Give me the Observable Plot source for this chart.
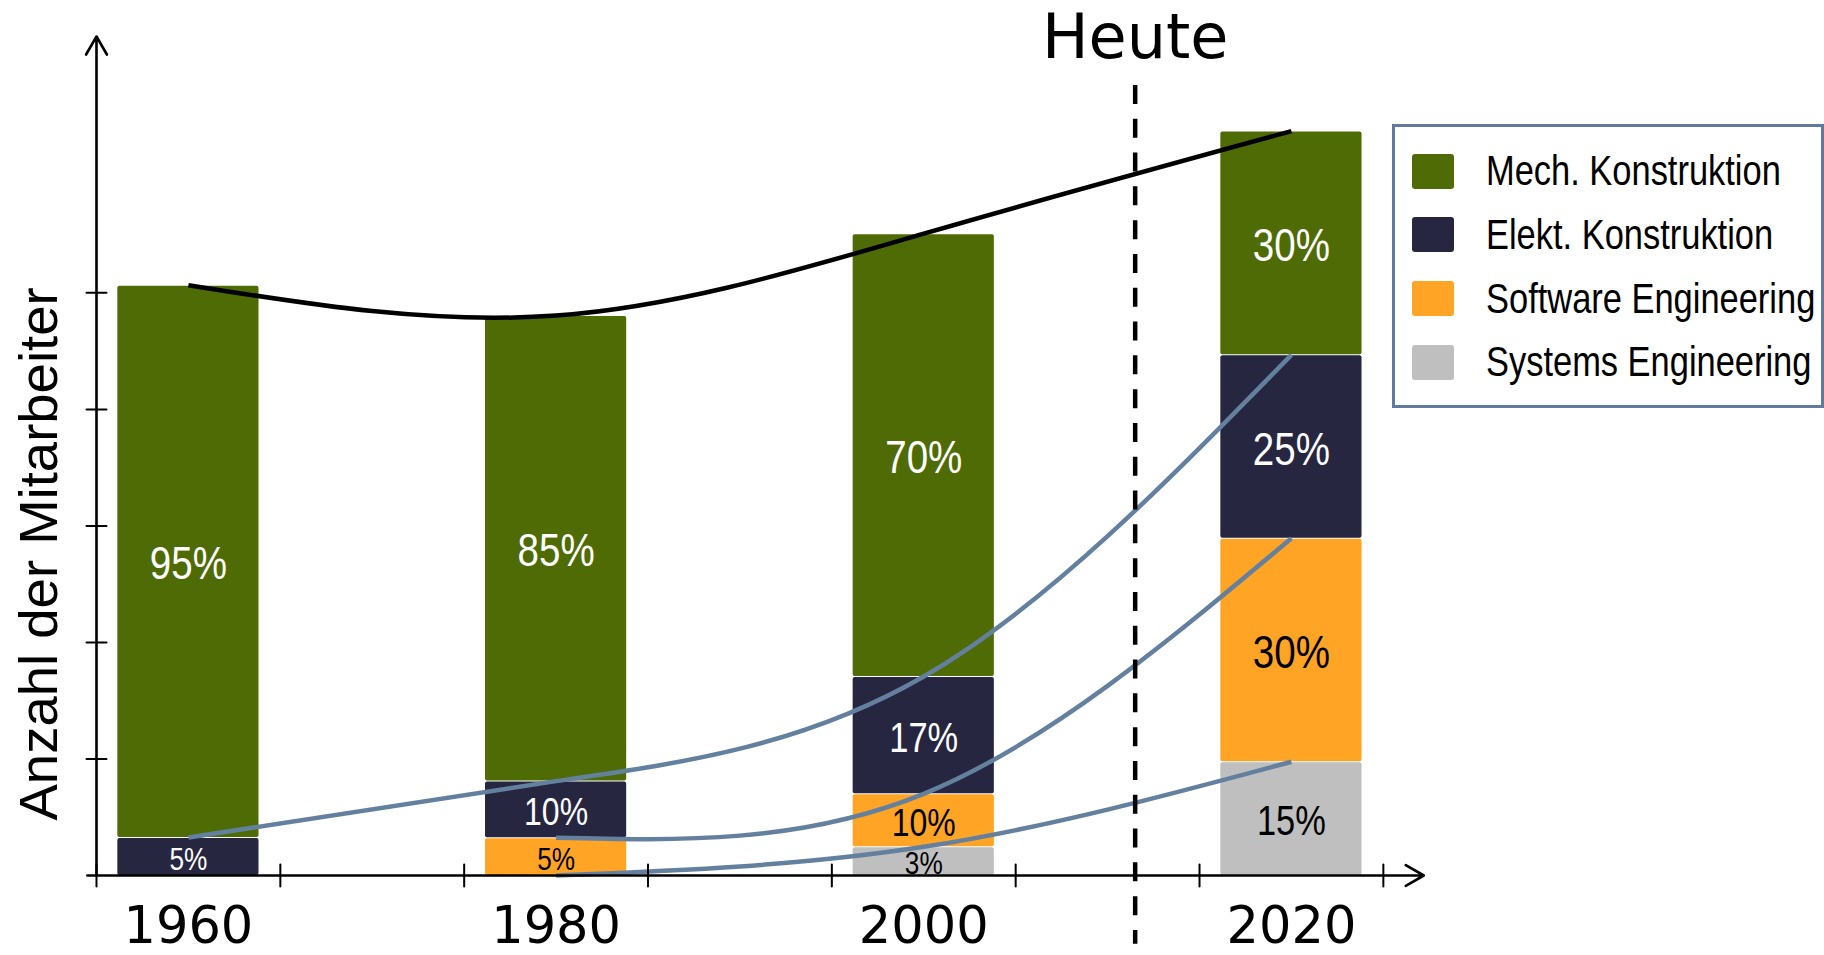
<!DOCTYPE html>
<html>
<head>
<meta charset="utf-8">
<script src="https://cdn.jsdelivr.net/npm/d3@7"></script>
<script src="https://cdn.jsdelivr.net/npm/@observablehq/plot@0.6"></script>
<style>
  body { margin: 0; background: #fff; }
  #wrap { position: relative; width: 1824px; height: 955px; overflow: hidden; background: #fff; }
  #legend {
    position: absolute; left: 1392px; top: 124px; width: 432px; height: 284px;
    box-sizing: border-box; border: 3.5px solid #61799a; background: #fff;
    padding: 12.6px 0 0 16.5px;
    font-family: "Liberation Sans", Arial, sans-serif;
    font-size: 42px; color: #000;
  }
  #legend .row { display: flex; align-items: center; height: 63.6px; white-space: nowrap; }
  #legend .sw { width: 42px; height: 35px; border-radius: 3px; margin-right: 32px; flex: none; }
  #legend .lab { display: inline-block; transform: scaleX(0.82); transform-origin: 0 50%; }
</style>
</head>
<body>
<div id="wrap"></div>
<script>
// ---- data ----
const years = [1960, 1980, 2000, 2020];
const yearLabels = ["1960", "1980", "2000", "2020"];
const categories = ["Mech. Konstruktion", "Elekt. Konstruktion", "Software Engineering", "Systems Engineering"];
const colors = ["#4e6b06", "#262641", "#ffa424", "#bfbfbf"];

// employee counts (arbitrary units, one y tick = 10)
const mech     = [47.4, 39.95, 38.0, 19.2];
const elekt    = [3.26, 4.86, 10.07, 15.74];
const software = [null, 3.24, 4.55, 19.18];
const systems  = [null, 0, 2.46, 9.76];

const mechLabels     = ["95%", "85%", "70%", "30%"];
const elektLabels    = ["5%", "10%", "17%", "25%"];
const softwareLabels = [null, "5%", "10%", "30%"];
const systemsLabels  = [null, null, "3%", "15%"];

const xTicks = [1955, 1965, 1975, 1985, 1995, 2005, 2015, 2025];
const yTicks = [10, 20, 30, 40, 50];
const heuteYear = 2011.5;
const heuteLabel = "Heute";
const yLabel = "Anzahl der Mitarbeiter";

// ---- build stacked rows (bottom to top) ----
const series = [
  {cat: categories[3], values: systems,  labels: systemsLabels,  text: "black"},
  {cat: categories[2], values: software, labels: softwareLabels, text: "black"},
  {cat: categories[1], values: elekt,    labels: elektLabels,    text: "white"},
  {cat: categories[0], values: mech,     labels: mechLabels,     text: "white"}
];
const colorOf = Object.fromEntries(categories.map((c, i) => [c, colors[i]]));
const rows = [];
years.forEach((year, i) => {
  let base = 0;
  for (const s of series) {
    const v = s.values[i];
    if (v == null) continue;
    rows.push({year, cat: s.cat, v, y1: base, y2: base + v, mid: base + v / 2, label: s.labels[i], textColor: s.text});
    base += v;
  }
});

const BLUE = "#64809f";
const barHalf = 3.84;
const tickShape = {draw(ctx, l) { ctx.moveTo(0, -l / 2); ctx.lineTo(0, l / 2); }};
const sizeFor = v => v >= 15 ? 47 : v >= 8 ? 42 : v >= 4 ? 39 : 32;
const NARROW = "Liberation Sans, Arial, sans-serif";

const chart = Plot.plot({
  width: 1824,
  height: 955,
  marginLeft: 96,
  marginRight: 386,
  marginTop: 36,
  marginBottom: 80,
  x: {domain: [1955, 2028], axis: null},
  y: {domain: [0, 72], axis: null},
  color: {type: "identity"},
  style: {background: "white", overflow: "visible", color: "black"},
  marks: [
    Plot.rect(rows.filter(d => d.v > 0), {
      x1: d => d.year - barHalf, x2: d => d.year + barHalf,
      y1: "y1", y2: "y2",
      fill: d => colorOf[d.cat], insetTop: 1, rx: 2
    }),
    Plot.text(rows.filter(d => d.label), {
      x: "year", y: "mid", text: "label", dy: 3,
      fill: d => d.textColor, fontSize: d => sizeFor(d.v), fontFamily: NARROW
    }),
    Plot.line(rows, {
      x: "year", y: "y2", z: "cat", curve: "natural",
      stroke: d => d.cat === categories[0] ? "black" : BLUE,
      strokeWidth: 4.5, strokeLinecap: "butt"
    }),
    Plot.ruleX([heuteYear], {y1: 67.8, y2: -5.9, stroke: "black", strokeWidth: 4.5, strokeDasharray: "19 14.8"}),
    Plot.arrow([0], {x1: 1954.5, x2: 2027.2, y1: 0, y2: 0, stroke: "black", strokeWidth: 2.6, headLength: 12, headAngle: 60}),
    Plot.arrow([0], {x1: 1955, x2: 1955, y1: 0, y2: 72, stroke: "black", strokeWidth: 2.6, headLength: 12, headAngle: 60}),
    Plot.vector(xTicks, {x: d => d, y: 0, length: 22, rotate: 0, anchor: "start", shape: tickShape, stroke: "black", strokeWidth: 2}),
    Plot.vector(yTicks, {x: 1955, y: d => d, length: 20, rotate: 90, anchor: "start", shape: tickShape, stroke: "black", strokeWidth: 2}),
    Plot.text(years, {x: d => d, text: (d, i) => yearLabels[i], frameAnchor: "bottom", lineAnchor: "top", dy: 31, fontSize: 51, fontFamily: "DejaVu Sans", fill: "black"}),
    Plot.text([heuteLabel], {x: heuteYear, frameAnchor: "top", lineAnchor: "bottom", dy: 21, fontSize: 62, fontFamily: "DejaVu Sans", fill: "black"}),
    Plot.text([yLabel], {frameAnchor: "bottom-left", rotate: -90, textAnchor: "start", lineAnchor: "bottom", dx: -40, dy: -55, fontSize: 54.5, fontFamily: "Liberation Sans", fill: "black"})
  ]
});

// condense the percentage labels (Arial Narrow look)
chart.querySelectorAll('g[font-family="' + NARROW + '"] text').forEach(t => {
  const tr = t.getAttribute("transform");
  if (tr) {
    t.setAttribute("transform", tr + " scale(0.82,1)");
  } else {
    const x = +t.getAttribute("x") || 0, y = +t.getAttribute("y") || 0;
    t.removeAttribute("x"); t.removeAttribute("y");
    t.setAttribute("transform", `translate(${x},${y}) scale(0.82,1)`);
  }
});

const wrap = document.getElementById("wrap");
wrap.appendChild(chart);

// ---- legend ----
const legend = document.createElement("div");
legend.id = "legend";
categories.forEach((c, i) => {
  const row = document.createElement("div");
  row.className = "row";
  const sw = document.createElement("span");
  sw.className = "sw";
  sw.style.background = colors[i];
  const label = document.createElement("span");
  label.className = "lab";
  label.textContent = c;
  row.appendChild(sw);
  row.appendChild(label);
  legend.appendChild(row);
});
wrap.appendChild(legend);
</script>
</body>
</html>
